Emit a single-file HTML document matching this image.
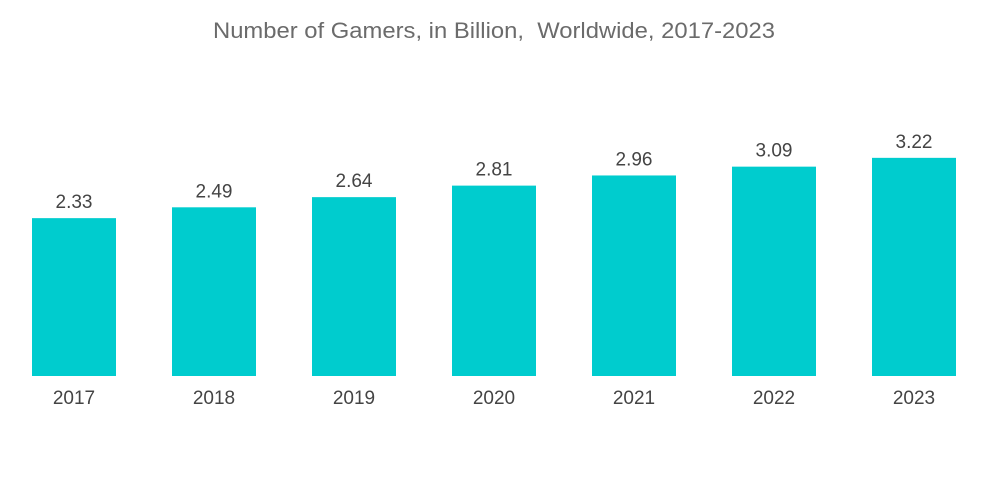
<!DOCTYPE html>
<html><head><meta charset="utf-8"><style>
body{margin:0;background:#fff;}
svg{display:block;font-family:"Liberation Sans",sans-serif;}
</style></head><body>
<svg id="chart" width="1000" height="504">
<text x="494" y="38" text-anchor="middle" font-size="22" fill="#6b6b6b" style="white-space:pre" textLength="562" lengthAdjust="spacingAndGlyphs">Number of Gamers, in Billion,  Worldwide, 2017-2023</text>
<g id="bars"></g>
</svg>
<script>
const categories=["2017","2018","2019","2020","2021","2022","2023"];
const values=[2.33,2.49,2.64,2.81,2.96,3.09,3.22];
const valueLabels=["2.33","2.49","2.64","2.81","2.96","3.09","3.22"];
const baseY=376, pxPerUnit=67.75, x0=32, pitch=140, bw=84;
const yScale=v=>baseY-v*pxPerUnit;
const xScale=i=>x0+i*pitch;
const g=document.getElementById('bars');
const NS="http://www.w3.org/2000/svg";
categories.forEach((c,i)=>{
  const y=yScale(values[i]);
  const r=document.createElementNS(NS,'rect');
  r.setAttribute('x',xScale(i));r.setAttribute('y',y);
  r.setAttribute('width',bw);r.setAttribute('height',baseY-y);
  r.setAttribute('fill','#00ccce');
  
  
  g.appendChild(r);
  const t=document.createElementNS(NS,'text');
  t.setAttribute('x',xScale(i)+bw/2);t.setAttribute('y',y-10);
  t.setAttribute('text-anchor','middle');t.setAttribute('font-size','19');t.setAttribute('fill','#444');
  t.textContent=valueLabels[i];
  
  
  g.appendChild(t);
  const l=document.createElementNS(NS,'text');
  l.setAttribute('x',xScale(i)+bw/2);l.setAttribute('y',404);
  l.setAttribute('text-anchor','middle');l.setAttribute('font-size','19');l.setAttribute('fill','#444');
  l.textContent=c;
  
  
  g.appendChild(l);
});
</script>
</body></html>
